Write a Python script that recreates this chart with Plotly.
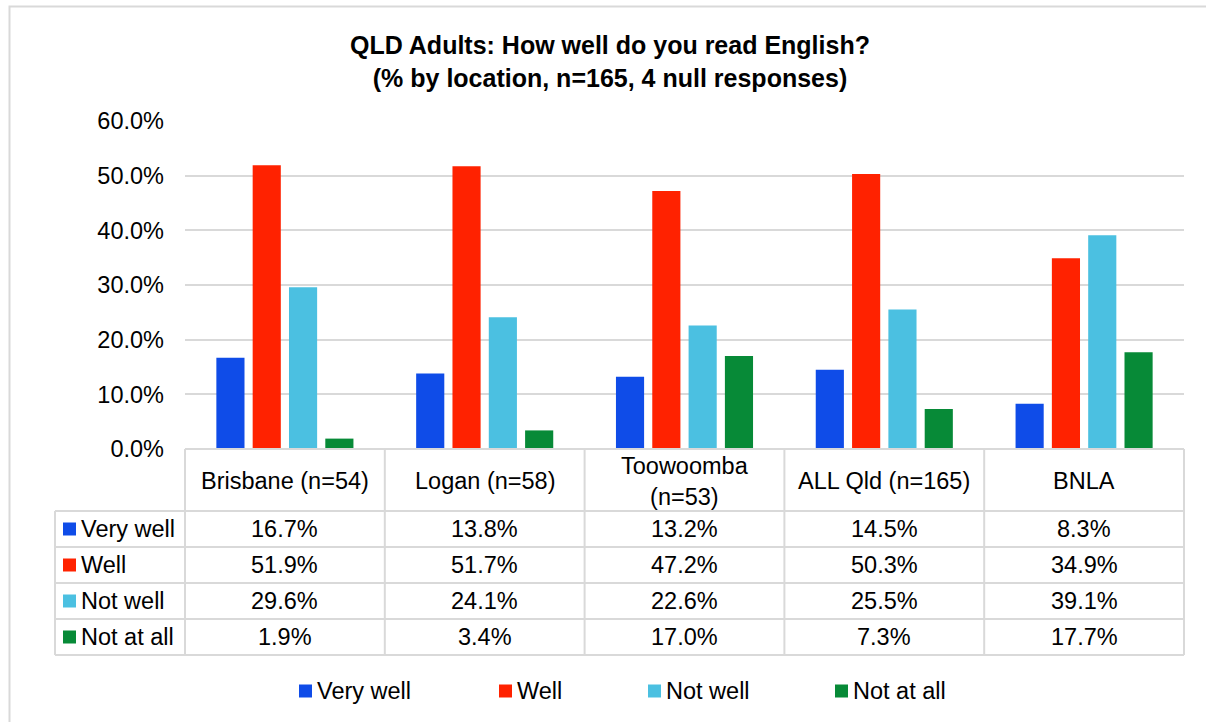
import plotly.graph_objects as go

# dados
locais = ["Brisbane (n=54)", "Logan (n=58)", "Toowoomba<br>(n=53)", "ALL Qld (n=165)", "BNLA"]
respostas = ["Very well", "Well", "Not well", "Not at all"]
very_well = [16.7, 13.8, 13.2, 14.5, 8.3]
well = [51.9, 51.7, 47.2, 50.3, 34.9]
not_well = [29.6, 24.1, 22.6, 25.5, 39.1]
not_at_all = [1.9, 3.4, 17.0, 7.3, 17.7]
y_ticks = [0, 10, 20, 30, 40, 50, 60]

series = [very_well, well, not_well, not_at_all]
cores = ["#0F4CE8", "#FF2200", "#4BC0E1", "#078A37"]

W, H = 1206, 722
L, R, T, B = 185, 1184, 121, 449  # area do grafico em pixels
fonte = "Liberation Sans, Arial, sans-serif"
tam = 23.5


def px_x(p):
    return (p - L) / (R - L)


def px_y(p):
    return (B - p) / (B - T)


fig = go.Figure()
for nome, vals, cor in zip(respostas, series, cores):
    fig.add_trace(go.Bar(x=locais, y=vals, name=nome, marker_color=cor,
                         marker_line_width=0, showlegend=False))

shapes = []
annots = []
cinza = "#D9D9D9"


def texto(x, y, t, size=tam, xanchor="center"):
    annots.append(dict(x=x, y=y, xref="paper", yref="paper", text=t, showarrow=False,
                       xanchor=xanchor, yanchor="middle",
                       font=dict(size=size, color="black", family=fonte)))


def linha(x0, x1, y0, y1):
    shapes.append(dict(type="line", xref="paper", yref="paper", x0=x0, x1=x1, y0=y0, y1=y1,
                       line=dict(color=cinza, width=2)))


def quadrado(x, yc, cor, lado=13):
    shapes.append(dict(type="rect", xref="paper", yref="paper", x0=px_x(x), x1=px_x(x + lado),
                       y0=yc - lado / 2 / (B - T), y1=yc + lado / 2 / (B - T),
                       fillcolor=cor, line=dict(width=0)))


# borda externa
shapes.append(dict(type="rect", xref="paper", yref="paper",
                   x0=px_x(9.5), x1=px_x(1240), y0=px_y(6.5), y1=px_y(760),
                   line=dict(color=cinza, width=2), layer="below"))

# tabela de dados
linhas_y = [511, 547, 583, 619, 655]
n = len(locais)
linha(0, 1, px_y(B), px_y(B))
for ly in linhas_y:
    linha(px_x(55), 1, px_y(ly), px_y(ly))
for i in range(n + 1):
    linha(i / n, i / n, px_y(B), px_y(linhas_y[-1]))
linha(px_x(55), px_x(55), px_y(linhas_y[0]), px_y(linhas_y[-1]))

# cabecalho
for i, loc in enumerate(locais):
    texto((i + 0.5) / n, px_y((B + linhas_y[0]) / 2 + 1), loc)

# linhas de valores
for r, (nome, vals, cor) in enumerate(zip(respostas, series, cores)):
    yc = px_y((linhas_y[r] + linhas_y[r + 1]) / 2)
    quadrado(63, yc, cor)
    texto(px_x(79), yc, nome, xanchor="left")
    for i, v in enumerate(vals):
        texto((i + 0.5) / n, yc, f"{v:.1f}%")

# legenda de baixo
leg_x = [299, 499, 648, 835]
for nome, cor, lx in zip(respostas, cores, leg_x):
    yc = px_y(691)
    quadrado(lx, yc, cor)
    texto(px_x(lx + 16), yc, nome, xanchor="left")

fig.update_layout(
    width=W, height=H,
    margin=dict(l=L, r=W - R, t=T, b=H - B, pad=0),
    paper_bgcolor="white", plot_bgcolor="white",
    title=dict(text="<b>QLD Adults: How well do you read English?<br>(% by location, n=165, 4 null responses)</b>",
               x=610 / W, xanchor="center", y=1 - 54 / H, yanchor="middle",
               font=dict(size=25, color="black", family=fonte)),
    barmode="group", bargap=0.273, bargroupgap=0.225,
    shapes=shapes, annotations=annots,
    font=dict(family=fonte, color="black"),
)
fig.update_xaxes(showticklabels=False, showgrid=False, zeroline=False, showline=False)
fig.update_yaxes(range=[0, 60], tickvals=y_ticks, ticktext=[f"{v:.1f}%" for v in y_ticks],
                 showgrid=True, gridcolor=cinza, gridwidth=2, zeroline=False, showline=False,
                 tickfont=dict(size=tam, color="black", family=fonte), ticklabelstandoff=20)

fig.write_html("out.html", config={"displayModeBar": False},
               post_script="document.body.style.margin='0px';document.body.style.overflow='hidden';")
